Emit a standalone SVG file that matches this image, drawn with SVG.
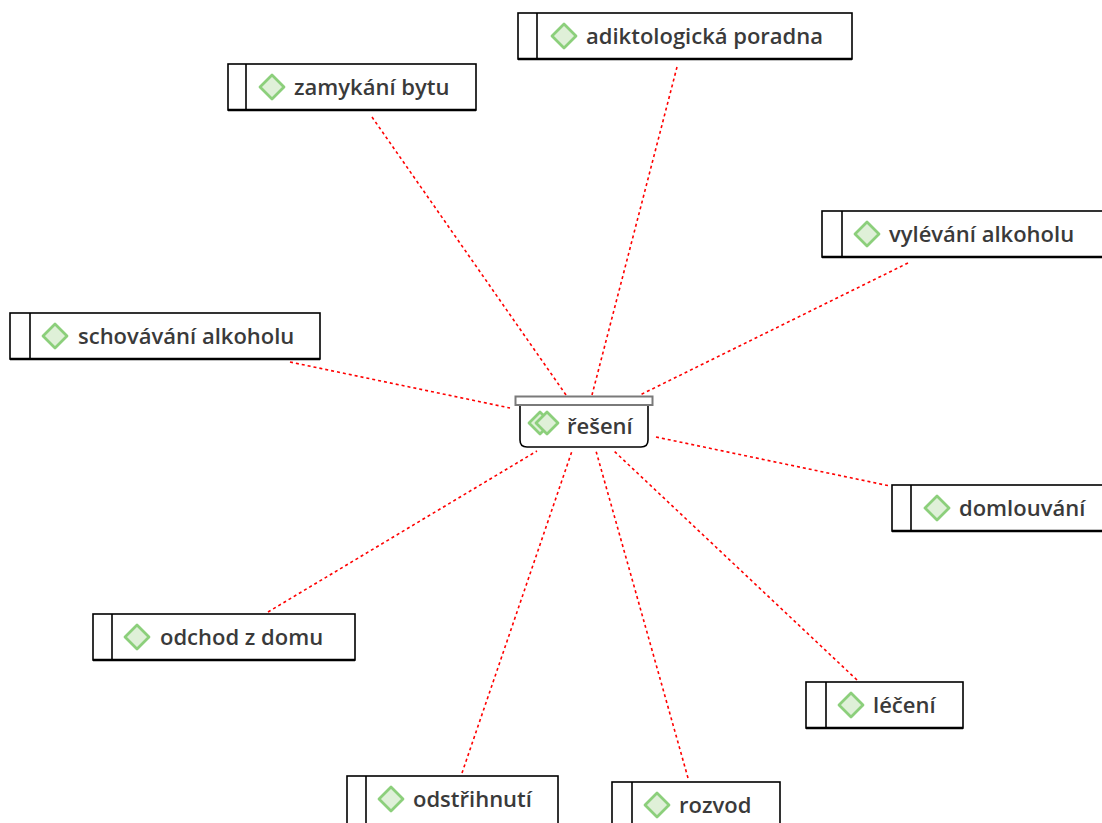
<svg xmlns="http://www.w3.org/2000/svg" width="1102" height="823" viewBox="0 0 1102 823">
<defs>
<style>
.box{fill:#fff;stroke:#000;stroke-width:1.6}
.bot{stroke:#000;stroke-width:2.6}
.div{stroke:#000;stroke-width:1.6}
.dia{fill:#dff0d8;stroke:#8ccf7b;stroke-width:2.8;stroke-linejoin:round}
.lbl{font-family:"Open Sans","Noto Sans",sans-serif;font-weight:600;font-size:22px;fill:#3a3a3a}
.con{stroke:#ff0000;stroke-width:1.6;stroke-dasharray:3 3;fill:none}
</style>
</defs>
<rect width="1102" height="823" fill="#fff"/>
<g id="connectors">
<line class="con" x1="372" y1="117" x2="566" y2="395"/>
<line class="con" x1="677" y1="67" x2="592" y2="395"/>
<line class="con" x1="908" y1="263" x2="640" y2="395"/>
<line class="con" x1="290" y1="362" x2="510" y2="408"/>
<line class="con" x1="656" y1="437" x2="890" y2="486"/>
<line class="con" x1="268" y1="612" x2="537" y2="451"/>
<line class="con" x1="857" y1="680" x2="614" y2="451"/>
<line class="con" x1="462" y1="773" x2="572" y2="451"/>
<line class="con" x1="688" y1="778" x2="596" y2="451"/>
</g>
<g id="center">
<path d="M520 405 V440 Q520 447 527 447 H641 Q648 447 648 440 V405" fill="#fff" stroke="#000" stroke-width="1.6"/>
<rect x="515.5" y="396.5" width="137" height="8.5" fill="#fff" stroke="#7a7a7a" stroke-width="2"/>
<path class="dia" d="M540 412 L551 423 L540 434 L529 423 Z" fill="#e8f5e3"/>
<path class="dia" d="M547 412 L558 423 L547 434 L536 423 Z"/>
<text class="lbl" x="567" y="434">řešení</text>
</g>
<g id="n-adik">
<rect class="box" x="518" y="13" width="334" height="46"/>
<line class="bot" x1="518" y1="59" x2="852" y2="59"/>
<line class="div" x1="537" y1="13" x2="537" y2="59"/>
<path class="dia" d="M564 24 L576 36 L564 48 L552 36 Z"/>
<text class="lbl" x="586" y="44">adiktologická poradna</text>
</g>
<g id="n-zamyk">
<rect class="box" x="228" y="64" width="248" height="46"/>
<line class="bot" x1="228" y1="110" x2="476" y2="110"/>
<line class="div" x1="246" y1="64" x2="246" y2="110"/>
<path class="dia" d="M272 75 L284 87 L272 99 L260 87 Z"/>
<text class="lbl" x="294" y="95">zamykání bytu</text>
</g>
<g id="n-vylev">
<rect class="box" x="822" y="211" width="290" height="46"/>
<line class="bot" x1="822" y1="257" x2="1102" y2="257"/>
<line class="div" x1="842" y1="211" x2="842" y2="257"/>
<path class="dia" d="M867 222 L879 234 L867 246 L855 234 Z"/>
<text class="lbl" x="889" y="242">vylévání alkoholu</text>
</g>
<g id="n-schov">
<rect class="box" x="10" y="313" width="310" height="46"/>
<line class="bot" x1="10" y1="359" x2="320" y2="359"/>
<line class="div" x1="30" y1="313" x2="30" y2="359"/>
<path class="dia" d="M55 324 L67 336 L55 348 L43 336 Z"/>
<text class="lbl" x="78" y="344">schovávání alkoholu</text>
</g>
<g id="n-doml">
<rect class="box" x="892" y="485" width="220" height="46"/>
<line class="bot" x1="892" y1="531" x2="1102" y2="531"/>
<line class="div" x1="911" y1="485" x2="911" y2="531"/>
<path class="dia" d="M937 496 L949 508 L937 520 L925 508 Z"/>
<text class="lbl" x="959" y="516">domlouvání</text>
</g>
<g id="n-odchod">
<rect class="box" x="93" y="614" width="262" height="46"/>
<line class="bot" x1="93" y1="660" x2="355" y2="660"/>
<line class="div" x1="112" y1="614" x2="112" y2="660"/>
<path class="dia" d="M137 625 L149 637 L137 649 L125 637 Z"/>
<text class="lbl" x="160" y="645">odchod z domu</text>
</g>
<g id="n-leceni">
<rect class="box" x="806" y="682" width="157" height="46"/>
<line class="bot" x1="806" y1="728" x2="963" y2="728"/>
<line class="div" x1="826" y1="682" x2="826" y2="728"/>
<path class="dia" d="M851 693 L863 705 L851 717 L839 705 Z"/>
<text class="lbl" x="873" y="713">léčení</text>
</g>
<g id="n-odstr">
<rect class="box" x="347" y="776" width="211" height="60"/>
<line class="div" x1="366" y1="776" x2="366" y2="823"/>
<path class="dia" d="M391 787 L403 799 L391 811 L379 799 Z"/>
<text class="lbl" x="413" y="807">odstřihnutí</text>
</g>
<g id="n-rozvod">
<rect class="box" x="612" y="782" width="168" height="60"/>
<line class="div" x1="632" y1="782" x2="632" y2="823"/>
<path class="dia" d="M657 793 L669 805 L657 817 L645 805 Z"/>
<text class="lbl" x="679" y="813">rozvod</text>
</g>
</svg>
